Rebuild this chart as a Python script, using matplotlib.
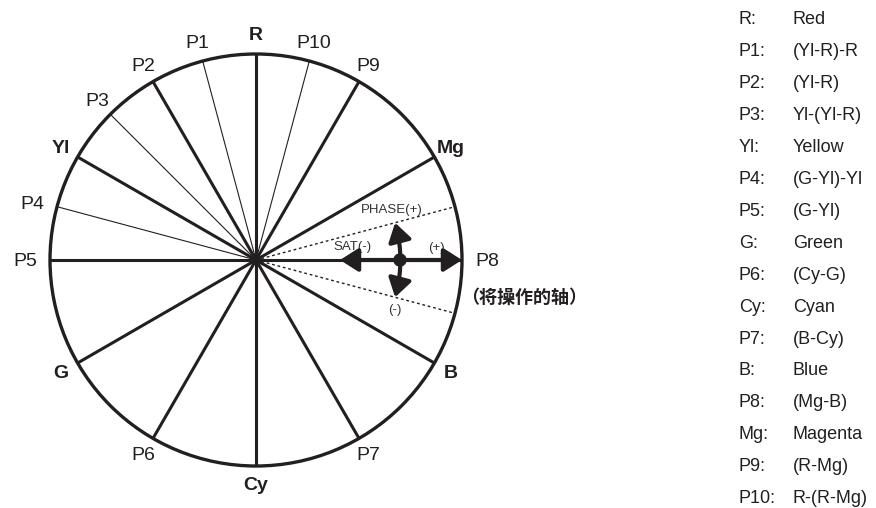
import numpy as np
import matplotlib
matplotlib.use('Agg')
import matplotlib.pyplot as plt
from matplotlib.patches import Circle, FancyArrowPatch

# spokes of the colour wheel (angle in degrees, counter-clockwise from the right)
spoke_names = ['R', 'P1', 'P2', 'P3', 'Yl', 'P4', 'P5', 'G', 'P6', 'Cy', 'P7', 'B', 'P8', 'Mg', 'P9', 'P10']
spoke_angles = [90, 105, 120, 135, 150, 165, 180, 210, 240, 270, 300, 330, 0, 30, 60, 75]
primary_names = ['R', 'Yl', 'G', 'Cy', 'B', 'Mg']
thin_names = ['P1', 'P3', 'P4', 'P10']

# legend on the right
legend_keys = ['R:', 'P1:', 'P2:', 'P3:', 'Yl:', 'P4:', 'P5:', 'G:', 'P6:', 'Cy:', 'P7:', 'B:', 'P8:', 'Mg:', 'P9:', 'P10:']
legend_values = ['Red', '(Yl-R)-R', '(Yl-R)', 'Yl-(Yl-R)', 'Yellow', '(G-Yl)-Yl', '(G-Yl)', 'Green',
                 '(Cy-G)', 'Cyan', '(B-Cy)', 'Blue', '(Mg-B)', 'Magenta', '(R-Mg)', 'R-(R-Mg)']

axis_note = '（将操作的轴）'
phase_span = 15  # degrees either side of the operated axis

ink = '#231f20'
txt = '#231f20'
cx, cy, r = 256, 260, 206

fig = plt.figure(figsize=(8.76, 5.08), dpi=100)
ax = fig.add_axes([0, 0, 1, 1])
ax.set_xlim(0, 876)
ax.set_ylim(508, 0)
ax.axis('off')

ax.add_patch(Circle((cx, cy), r, fill=False, lw=2.4, ec=ink, zorder=3))

for name, ang in zip(spoke_names, spoke_angles):
    a = np.radians(ang)
    c, s = np.cos(a), np.sin(a)
    lw = 0.8 if name in thin_names else 2.2
    ax.plot([cx, cx + r * c], [cy, cy - r * s], color=ink, lw=lw, solid_capstyle='butt', zorder=2)
    weight = 'bold' if name in primary_names else 'normal'
    if abs(c) > 0.95:
        d = r + 13
        ha = 'left' if c > 0 else 'right'
    else:
        d = r + 19
        ha = 'center'
    ax.text(cx + d * c, cy - d * s - 1, name, ha=ha, va='center_baseline', fontsize=14,
            fontweight=weight, family='Liberation Sans', color=txt)

ax.text(cx + r - 1, cy + 37, axis_note, ha='left', va='center', fontsize=13,
        fontweight='bold', family=['Noto Sans CJK SC', 'DejaVu Sans'], color=txt)

# dotted phase limits
for sgn in (1, -1):
    a = np.radians(sgn * phase_span)
    ax.plot([cx, cx + r * np.cos(a)], [cy, cy - r * np.sin(a)], color=ink, lw=1.0,
            ls=(0, (2, 2)), zorder=2)

head = '<|-|>,head_length=1.1,head_width=0.7'
# saturation arrow
ax.add_patch(FancyArrowPatch((cx + 84, cy), (cx + r, cy), arrowstyle=head,
                             mutation_scale=10, lw=3, color=ink, zorder=4,
                             shrinkA=0, shrinkB=0))
# phase arrow (arc)
rr = 144
a = np.radians(phase_span)
top = (cx + rr * np.cos(a), cy - rr * np.sin(a))
bot = (cx + rr * np.cos(a), cy + rr * np.sin(a))
ax.add_patch(FancyArrowPatch(top, bot, connectionstyle='arc3,rad=-0.13', arrowstyle=head,
                             mutation_scale=10, lw=3, color=ink, zorder=4,
                             shrinkA=0, shrinkB=0))
ax.add_patch(Circle((cx + rr, cy), 6, color=ink, zorder=5))

small = dict(fontsize=9.5, family='Liberation Sans', color='#333333', ha='center', va='center')
ax.text(cx + 136, cy - 50, 'PHASE(+)', **small)
ax.text(cx + 96, cy - 13, 'SAT(-)', **small)
ax.text(cx + 180, cy - 12, '(+)', **small)
ax.text(cx + 139, cy + 50, '(-)', **small)

for i, (k, v) in enumerate(zip(legend_keys, legend_values)):
    y = 18 + 31.9 * i
    ax.text(739, y, k, ha='left', va='center_baseline', fontsize=13, family='Liberation Sans', color=txt)
    ax.text(793, y, v, ha='left', va='center_baseline', fontsize=13, family='Liberation Sans', color=txt)

fig.savefig('out.png', dpi=100)
